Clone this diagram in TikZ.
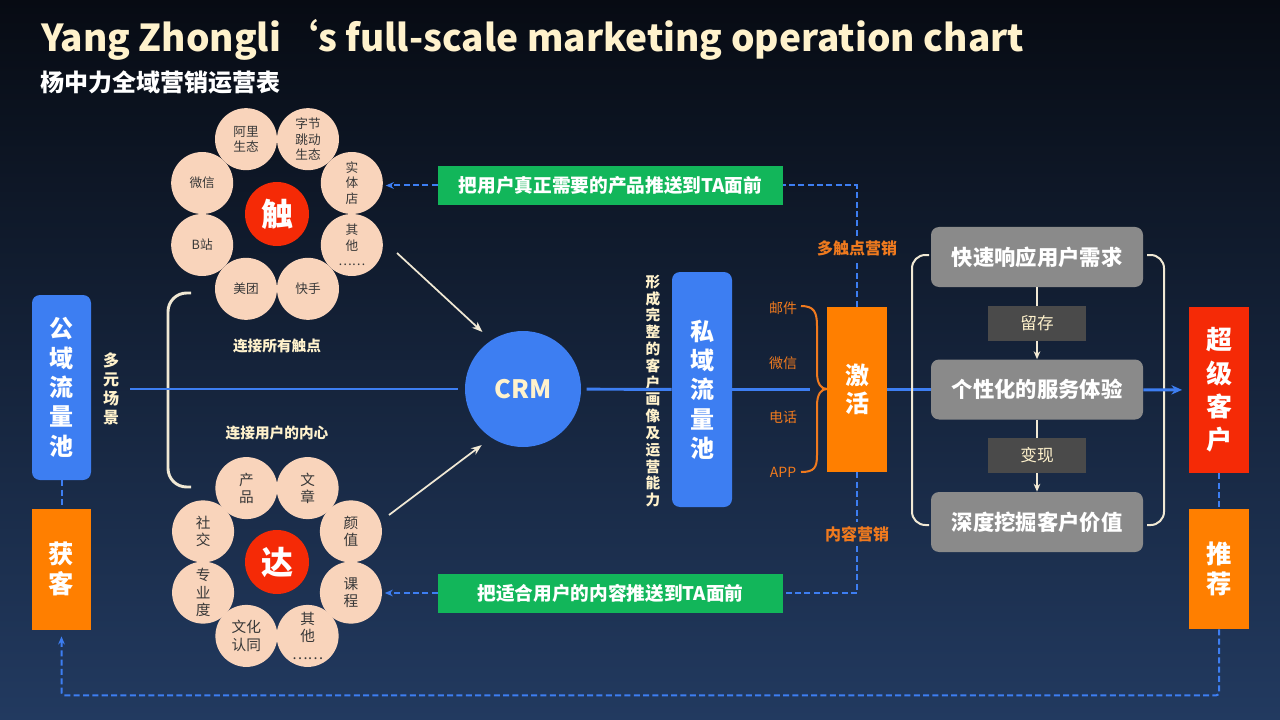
\documentclass[tikz,border=0pt]{standalone}
\usepackage{fontspec}
\newfontfamily\cjk{Noto Sans CJK SC}
\usetikzlibrary{arrows.meta,positioning,calc}

\definecolor{poolblue}{RGB}{61,126,242}
\definecolor{stageorange}{RGB}{255,127,0}
\definecolor{hotred}{RGB}{245,42,6}
\definecolor{pushgreen}{RGB}{18,182,90}
\definecolor{peach}{RGB}{249,212,187}
\definecolor{cream}{RGB}{255,242,204}
\definecolor{paleline}{RGB}{240,232,212}
\definecolor{flowgray}{RGB}{138,138,138}
\definecolor{taggray}{RGB}{74,74,74}
\definecolor{textorange}{RGB}{240,122,30}
\definecolor{bgtop}{RGB}{7,11,19}
\definecolor{bgmid}{RGB}{19,32,53}
\definecolor{bgbottom}{RGB}{34,58,96}

\begin{document}
\begin{tikzpicture}
[x=0.75pt, y=-0.75pt, font=\cjk, text=white,
px size/.style 2 args = {minimum width=#1*0.75pt, minimum height=#2*0.75pt, inner sep=0pt},
pool box/.style = {rectangle, rounded corners=6pt, fill=poolblue, align=center,
                   font=\cjk\bfseries\fontsize{18}{22}\selectfont},
stage box/.style = {rectangle, fill=stageorange, align=center, font=\cjk\bfseries\fontsize{19}{23}\selectfont},
hot box/.style = {stage box, fill=hotred, font=\cjk\bfseries\fontsize{19.5}{25}\selectfont},
petal/.style = {circle, fill=peach, text=black!78, minimum size=62*0.75pt, inner sep=0pt, align=center},
hub/.style = {circle, fill=hotred, minimum size=64*0.75pt, inner sep=0pt, font=\cjk\bfseries\fontsize{24}{24}\selectfont},
core/.style = {circle, fill=poolblue, text=cream, minimum size=116*0.75pt, font=\cjk\bfseries\fontsize{19}{19}\selectfont},
caption/.style = {text=cream, font=\cjk\bfseries\fontsize{11}{11}\selectfont},
push box/.style = {rectangle, fill=pushgreen, px size={345}{39}, font=\cjk\bfseries\fontsize{14}{14}\selectfont},
flow box/.style = {rectangle, rounded corners=6pt, fill=flowgray, px size={212}{60}, font=\cjk\bfseries\fontsize{16}{16}\selectfont},
tag box/.style = {rectangle, fill=taggray, text=cream, px size={98}{35}, font=\cjk\fontsize{12.5}{12.5}\selectfont},
channel/.style = {text=textorange, font=\cjk\fontsize{10.5}{10.5}\selectfont},
market/.style = {text=textorange, font=\cjk\bfseries\fontsize{12}{12}\selectfont},
main line/.style = {draw=poolblue, line width=2.2pt},
dash link/.style = {draw=poolblue, line width=1.5pt, dash pattern=on 4.5pt off 2.5pt},
pale line/.style = {draw=paleline, line width=1.5pt}]

\shade[top color=bgtop, middle color=bgmid, bottom color=bgbottom] (0,0) rectangle (1280,720);
\useasboundingbox (0,0) rectangle (1280,720);

\node[anchor=base west, inner sep=0pt, text=cream, font=\cjk\bfseries\fontsize{27.8}{28}\selectfont] (title)
  at (41,52) {Yang Zhongli‘s full-scale marketing operation chart};
\node[anchor=base west, inner sep=0pt, font=\cjk\bfseries\fontsize{18}{18}\selectfont] (subtitle)
  at (40,92) {杨中力全域营销运营表};

% public pool and acquisition
\node[pool box, px size={59}{185}] (public) at (61.5,387.5) {公\\域\\流\\量\\池};
\node[stage box, px size={59}{121}] (acquire) at (61.5,569) {获\\客};
\node[text=cream, align=center, font=\cjk\bfseries\fontsize{12}{14.3}\selectfont] (scene) at (111,389) {多\\元\\场\\景};
\draw[dash link] (public) -- (acquire);
\draw[pale line, line width=2.2pt, rounded corners=14pt] (191,293) -| (168,487) -- (191,487);

% touch points
\node[hub] (touch) at (277,214) {触};
\foreach \a/\txt [count=\i] in {-112.5/阿里\\生态, -67.5/字节\\跳动\\生态, -22.5/实\\体\\店, 22.5/其\\他\\……,
                                67.5/快手, 112.5/美团, 157.5/B站, 202.5/微信}
  \node[petal, font=\cjk\fontsize{9.5}{11.5}\selectfont] (touch\i) at ($(touch)+(\a:81)$) {\txt};
\node[caption] (touchnote) at (277,346) {连接所有触点};

% reaching the heart
\node[hub] (reach) at (277,562) {达};
\foreach \a/\txt [count=\i] in {-112.5/产\\品, -67.5/文\\章, -22.5/颜\\值, 22.5/课\\程,
                                67.5/其\\他\\……, 112.5/文化\\认同, 157.5/专\\业\\度, 202.5/社\\交}
  \node[petal, font=\cjk\fontsize{11}{13}\selectfont] (reach\i) at ($(reach)+(\a:80)$) {\txt};
\node[caption] (reachnote) at (277,433) {连接用户的内心};

% crm and private pool
\node[core] (crm) at (523,389) {CRM};
\coordinate (touchtail) at (397,253);
\coordinate (reachtail) at (389,515);
\draw[pale line, line width=1.3pt, -{Stealth[length=8pt,width=6pt]}, shorten >=9pt] (touchtail) -- (crm.123);
\draw[pale line, line width=1.3pt, -{Stealth[length=8pt,width=6pt]}, shorten >=9pt] (reachtail) -- (crm.237);
\draw[main line, shorten <=5pt, shorten >=5pt] (scene) -- (crm);

\node[pool box, px size={60}{235}] (private) at (702,389.5) {私\\域\\流\\量\\池};
\node[text=cream, align=center, font=\cjk\bfseries\fontsize{11}{12.6}\selectfont] (ability)
  at (653,391) {形\\成\\完\\整\\的\\客\\户\\画\\像\\及\\运\\营\\能\\力};
\draw[main line, shorten <=4pt] (crm) -- (private);

% activation
\node[channel] (mail) at (783,308) {邮件};
\node[channel] (wechat) at (783,363) {微信};
\node[channel] (phone) at (783,417) {电话};
\node[channel] (app) at (783,472) {APP};
\coordinate (braceback) at (810,389.5);
\draw[main line] (private) -- (braceback);
\draw[draw=textorange, line width=1.5pt] (801,306) .. controls (814,306) and (817,312) .. (817,326) -- (817,372)
  .. controls (817,384) and (821,389) .. (827,389) .. controls (821,389) and (817,394) .. (817,406) -- (817,455)
  .. controls (817,468) and (814,472) .. (801,472);
\node[stage box, px size={60}{165}, font=\cjk\bfseries\fontsize{18}{21}\selectfont] (activate) at (857,389.5) {激\\活};

\node[market] (multi) at (857,248) {多触点营销};
\node[market] (content) at (857,534) {内容营销};
\node[push box] (need) at (610.5,185.5) {把用户真正需要的产品推送到TA面前};
\node[push box] (suit) at (610.5,593) {把适合用户的内容推送到TA面前};
\draw[dash link] (activate) -- (multi);
\draw[dash link] (multi) |- (need);
\draw[dash link, -{Stealth[length=6pt,width=5pt]}, shorten >=2pt] (need) -- (need.west -| touch3.east);
\draw[dash link] (activate) -- (content);
\draw[dash link] (content) |- (suit);
\draw[dash link, -{Stealth[length=6pt,width=5pt]}, shorten >=2pt] (suit) -- (suit.west -| reach4.east);

% service loop
\node[flow box] (respond) at (1037,257) {快速响应用户需求};
\node[flow box] (serve) at (1037,389.5) {个性化的服务体验};
\node[flow box] (mine) at (1037,522) {深度挖掘客户价值};
\draw[main line] (activate) -- (serve);
\draw[pale line, -{Stealth[length=6pt,width=5pt]}] (respond) -- (serve);
\draw[pale line, -{Stealth[length=6pt,width=5pt]}] (serve) -- (mine);
\node[tag box] (retain) at (1037,323.5) {留存};
\node[tag box] (cash) at (1037,455.5) {变现};
\draw[pale line, rounded corners=10pt] (929,255) -| (912,525) -- (929,525);
\draw[pale line, rounded corners=10pt] (1147,255) -| (1164,525) -- (1147,525);

% super customers
\node[hot box, px size={60}{166}] (super) at (1219,390) {超\\级\\客\\户};
\node[stage box, px size={60}{120}] (recommend) at (1219,569) {推\\荐};
\draw[main line, -{Stealth[length=8pt,width=7pt]}, shorten >=5pt] (serve) -- (super);
\draw[dash link] (super) -- (recommend);
\draw[dash link, rounded corners=2pt, -{Stealth[length=6pt,width=5pt]}, shorten >=5pt]
  (recommend.south) -- ++(0,66) -| (acquire);
\end{tikzpicture}
\end{document}
